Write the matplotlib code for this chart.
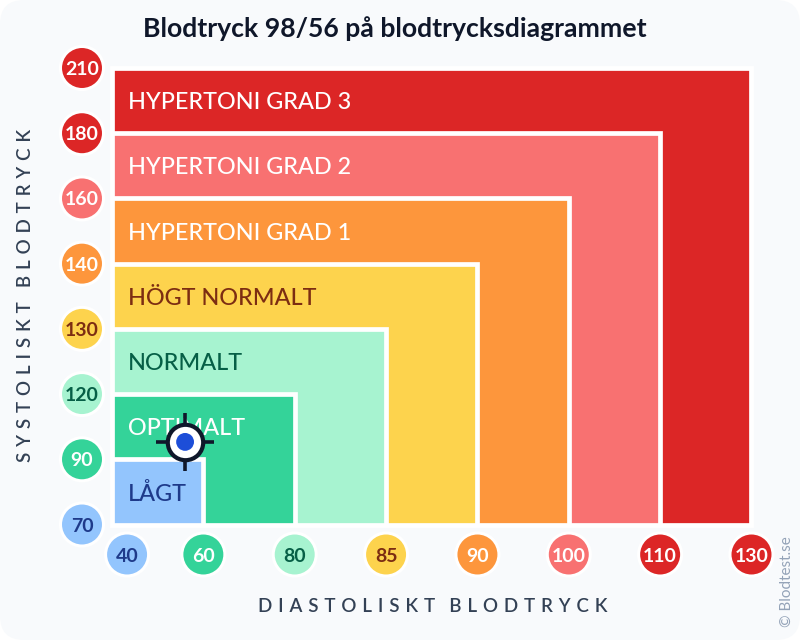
import numpy as np
import matplotlib
matplotlib.use("Agg")
import matplotlib.pyplot as plt
from matplotlib.patches import FancyBboxPatch, Rectangle

plt.rcParams['font.family'] = ['Lato', 'DejaVu Sans']

zones = ["LÅGT", "OPTIMALT", "NORMALT", "HÖGT NORMALT", "HYPERTONI GRAD 1", "HYPERTONI GRAD 2", "HYPERTONI GRAD 3"]
zone_colors = ["#93c5fd", "#34d399", "#a7f3d0", "#fdd34d", "#fd963c", "#f87171", "#dc2626"]
zone_text = ["#1e3a8a", "#ffffff", "#065f46", "#7c2d12", "#ffffff", "#ffffff", "#ffffff"]
sys_ticks = [70, 90, 120, 130, 140, 160, 180, 210]
dia_ticks = [40, 60, 80, 85, 90, 100, 110, 130]
sys_colors = ["#93c5fd", "#34d399", "#a7f3d0", "#fdd34d", "#fd963c", "#f87171", "#dc2626", "#dc2626"]
dia_colors = sys_colors
tick_text = ["#1e3a8a", "#ffffff", "#065f46", "#7c2d12", "#ffffff", "#ffffff", "#ffffff", "#ffffff"]
reading_sys, reading_dia = 98, 56

W, H = 800, 640
fig = plt.figure(figsize=(W/100, H/100), dpi=100, facecolor="white")
fig.patches.append(FancyBboxPatch((0, 0), W, H, boxstyle="round,pad=0,rounding_size=24",
                                  transform=None, fc="#f8fafc", ec="none", zorder=-5))
L, R, T, B = 112, 751.5, 68, 524.5
ax = fig.add_axes([L/W, 1-B/H, (R-L)/W, (B-T)/H], zorder=3)
ax.set_xlim(0, 7); ax.set_ylim(0, 7)
ax.patch.set_alpha(0)
for s in ax.spines.values():
    s.set_visible(False)

for i in range(6, -1, -1):
    ax.add_patch(Rectangle((0, 0), i+1, i+1, fc=zone_colors[i], ec="white", lw=3.4, clip_on=False, zorder=1+(6-i)*0.01))
for i, z in enumerate(zones):
    ax.text(16/((R-L)/7), i+0.5, z, color=zone_text[i], fontsize=16.8, fontweight="medium",
            va="center_baseline", ha="left", zorder=2)

x_pos = np.array([0.165, 1, 2, 3, 4, 5, 6, 7])
y_pos = np.arange(8)
xc_y = -30/((B-T)/7)
yc_x = -30/((R-L)/7)
ax.scatter(x_pos, [xc_y]*8, s=960, c=dia_colors, edgecolors="white", linewidths=2.2, clip_on=False, zorder=2.3)
ax.scatter([yc_x]*8, y_pos, s=960, c=sys_colors, edgecolors="white", linewidths=2.2, clip_on=False, zorder=2.3)

ax.set_xticks(x_pos, [str(v) for v in dia_ticks])
ax.set_yticks(y_pos, [str(v) for v in sys_ticks])
ax.tick_params(axis="both", length=0, pad=21.6, labelsize=14)
ax.set_axisbelow(False)
for lab, c in zip(ax.get_xticklabels(), tick_text):
    lab.set(color=c, va="center_baseline", ha="center", fontweight="bold")
for lab, c in zip(ax.get_yticklabels(), tick_text):
    lab.set(color=c, va="center_baseline", ha="center", fontweight="bold")

mx = np.interp(reading_dia, dia_ticks, np.arange(8))
my = np.interp(reading_sys, sys_ticks, np.arange(8))
dx, dy = 29/((R-L)/7), 29/((B-T)/7)
ink = "#0f172a"
ax.plot([mx-dx, mx+dx], [my, my], color=ink, lw=2.6, solid_capstyle="butt", clip_on=False, zorder=6)
ax.plot([mx, mx], [my-dy, my+dy], color=ink, lw=2.6, solid_capstyle="butt", clip_on=False, zorder=6)
ax.scatter([mx], [my], s=650, c="white", edgecolors=ink, linewidths=3.0, clip_on=False, zorder=7)
ax.scatter([mx], [my], s=165, c="#1d4ed8", edgecolors="none", clip_on=False, zorder=8)

def spaced(s):
    return "\u2009\u2009\u200a".join(s.replace(" ", "\u2009"))

fig.text(395/W, 1-27/H, "Blodtryck 98/56 på blodtrycksdiagrammet", fontsize=19.2, fontweight="bold",
         color="#0f172a", ha="center", va="center_baseline")
fig.text(433/W, 1-605/H, spaced("DIASTOLISKT BLODTRYCK"), fontsize=13.5, fontweight="semibold",
         color="#334155", ha="center", va="center_baseline")
fig.text(26/W, 1-295/H, spaced("SYSTOLISKT BLODTRYCK"), fontsize=13.5, fontweight="semibold", rotation=90,
         color="#334155", ha="center", va="center")
fig.text(787/W, 1-582/H, "© Blodtest.se", fontsize=11, rotation=90, color="#94a3b8", ha="center", va="center")

fig.savefig("out.png", dpi=100, facecolor="white")
